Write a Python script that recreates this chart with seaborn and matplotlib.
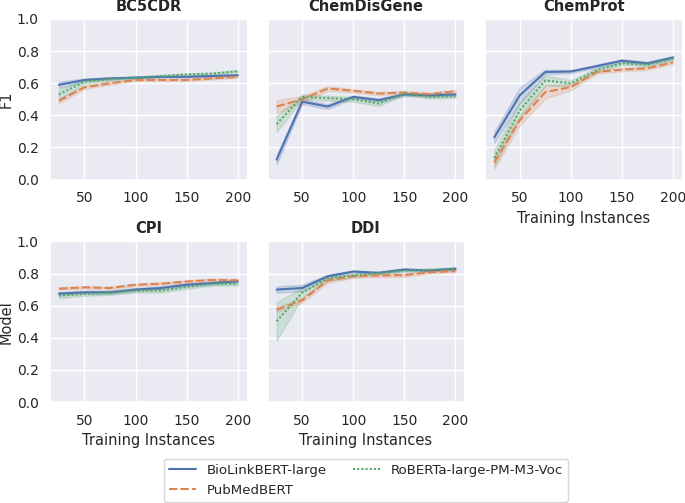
import numpy as np
import pandas as pd
import seaborn as sns
import matplotlib
matplotlib.use("Agg")
import matplotlib.pyplot as plt

datasets = ["BC5CDR", "ChemDisGene", "ChemProt", "CPI", "DDI"]
models = ["BioLinkBERT-large", "PubMedBERT", "RoBERTa-large-PM-M3-Voc"]
instances = [25, 50, 75, 100, 125, 150, 175, 200]

# mean F1 per training size
bc5cdr_biolink = [0.59, 0.62, 0.63, 0.635, 0.64, 0.64, 0.645, 0.65]
bc5cdr_pubmed = [0.49, 0.575, 0.60, 0.62, 0.62, 0.62, 0.63, 0.64]
bc5cdr_roberta = [0.53, 0.61, 0.625, 0.635, 0.645, 0.655, 0.66, 0.675]

chemdisgene_biolink = [0.124, 0.485, 0.455, 0.515, 0.495, 0.53, 0.525, 0.53]
chemdisgene_pubmed = [0.455, 0.50, 0.567, 0.553, 0.536, 0.542, 0.532, 0.55]
chemdisgene_roberta = [0.346, 0.515, 0.507, 0.50, 0.474, 0.536, 0.515, 0.52]

chemprot_biolink = [0.263, 0.525, 0.67, 0.673, 0.706, 0.74, 0.724, 0.76]
chemprot_pubmed = [0.107, 0.37, 0.545, 0.576, 0.67, 0.685, 0.693, 0.73]
chemprot_roberta = [0.134, 0.432, 0.617, 0.60, 0.68, 0.724, 0.716, 0.755]

cpi_biolink = [0.675, 0.683, 0.683, 0.70, 0.71, 0.73, 0.74, 0.752]
cpi_pubmed = [0.706, 0.714, 0.71, 0.73, 0.737, 0.75, 0.76, 0.758]
cpi_roberta = [0.662, 0.673, 0.68, 0.694, 0.694, 0.716, 0.737, 0.737]

ddi_biolink = [0.70, 0.71, 0.783, 0.812, 0.804, 0.825, 0.818, 0.83]
ddi_pubmed = [0.575, 0.633, 0.757, 0.783, 0.788, 0.79, 0.808, 0.815]
ddi_roberta = [0.503, 0.68, 0.77, 0.788, 0.804, 0.818, 0.823, 0.83]

# half-width of the shaded band
bc5cdr_biolink_sp = [0.02, 0.01, 0.008, 0.006, 0.006, 0.006, 0.006, 0.006]
bc5cdr_pubmed_sp = [0.015, 0.01, 0.008, 0.006, 0.006, 0.006, 0.006, 0.006]
bc5cdr_roberta_sp = [0.03, 0.015, 0.01, 0.006, 0.006, 0.006, 0.006, 0.006]

chemdisgene_biolink_sp = [0.03, 0.015, 0.015, 0.01, 0.01, 0.01, 0.01, 0.01]
chemdisgene_pubmed_sp = [0.04, 0.02, 0.015, 0.01, 0.01, 0.01, 0.01, 0.01]
chemdisgene_roberta_sp = [0.05, 0.015, 0.015, 0.015, 0.015, 0.01, 0.01, 0.01]

chemprot_biolink_sp = [0.035, 0.05, 0.015, 0.01, 0.01, 0.01, 0.01, 0.01]
chemprot_pubmed_sp = [0.04, 0.03, 0.04, 0.02, 0.01, 0.01, 0.01, 0.01]
chemprot_roberta_sp = [0.05, 0.05, 0.03, 0.02, 0.015, 0.01, 0.01, 0.01]

cpi_biolink_sp = [0.01, 0.01, 0.01, 0.01, 0.01, 0.01, 0.01, 0.01]
cpi_pubmed_sp = [0.008, 0.008, 0.008, 0.008, 0.008, 0.008, 0.008, 0.008]
cpi_roberta_sp = [0.015, 0.012, 0.012, 0.012, 0.012, 0.012, 0.012, 0.012]

ddi_biolink_sp = [0.02, 0.02, 0.01, 0.008, 0.008, 0.008, 0.008, 0.008]
ddi_pubmed_sp = [0.015, 0.015, 0.015, 0.01, 0.01, 0.01, 0.008, 0.008]
ddi_roberta_sp = [0.12, 0.03, 0.015, 0.01, 0.01, 0.008, 0.008, 0.008]

series = {
    "BC5CDR": [(bc5cdr_biolink, bc5cdr_biolink_sp), (bc5cdr_pubmed, bc5cdr_pubmed_sp), (bc5cdr_roberta, bc5cdr_roberta_sp)],
    "ChemDisGene": [(chemdisgene_biolink, chemdisgene_biolink_sp), (chemdisgene_pubmed, chemdisgene_pubmed_sp), (chemdisgene_roberta, chemdisgene_roberta_sp)],
    "ChemProt": [(chemprot_biolink, chemprot_biolink_sp), (chemprot_pubmed, chemprot_pubmed_sp), (chemprot_roberta, chemprot_roberta_sp)],
    "CPI": [(cpi_biolink, cpi_biolink_sp), (cpi_pubmed, cpi_pubmed_sp), (cpi_roberta, cpi_roberta_sp)],
    "DDI": [(ddi_biolink, ddi_biolink_sp), (ddi_pubmed, ddi_pubmed_sp), (ddi_roberta, ddi_roberta_sp)],
}

rows = []
for ds in datasets:
    for model, (means, sps) in zip(models, series[ds]):
        for x, m, s in zip(instances, means, sps):
            rows.append({"Dataset": ds, "Model": model, "Training Instances": x, "F1": m - s})
            rows.append({"Dataset": ds, "Model": model, "Training Instances": x, "F1": m + s})
df = pd.DataFrame(rows)

sns.set_theme(style="darkgrid", rc={
    "xtick.labelsize": 10, "ytick.labelsize": 10,
    "axes.labelsize": 10.5, "axes.titlesize": 10.5,
    "legend.fontsize": 9.6, "ytick.major.pad": 2, "xtick.major.pad": 2.5,
})
plt.rcParams["font.family"] = ["DejaVu Sans"]

g = sns.relplot(
    data=df, x="Training Instances", y="F1", hue="Model", style="Model",
    col="Dataset", col_wrap=3, kind="line", errorbar=("pi", 100),
    height=2.0, aspect=1.2, col_order=datasets, hue_order=models, style_order=models,
    facet_kws={"ylim": (0, 1.0)},
)
g.figure.set_size_inches(6.85, 5.03)
g.figure.subplots_adjust(left=50/685, right=682/685, top=1-19/503, bottom=1-402/503,
                         wspace=0.107, hspace=0.385)
g.set_titles("{col_name}", fontweight="bold")
g.set(xticks=[50, 100, 150, 200])
axes = g.axes.flatten()
for i, ax in enumerate(axes):
    ax.tick_params(labelbottom=True)
    if i not in (0, 3):
        ax.tick_params(labelleft=False)
axes[0].set_ylabel("F1")
axes[3].set_ylabel("Model")
axes[0].yaxis.set_label_coords(-0.185, 0.5)
axes[3].yaxis.set_label_coords(-0.185, 0.5)
sns.move_legend(g, "lower center", bbox_to_anchor=(0.534, -0.011), ncol=2, title=None,
                frameon=True, fontsize=9.6)
frame = g.legend.get_frame()
frame.set_facecolor("white")
frame.set_edgecolor("#cccccc")

g.figure.savefig("out.png", dpi=100)
